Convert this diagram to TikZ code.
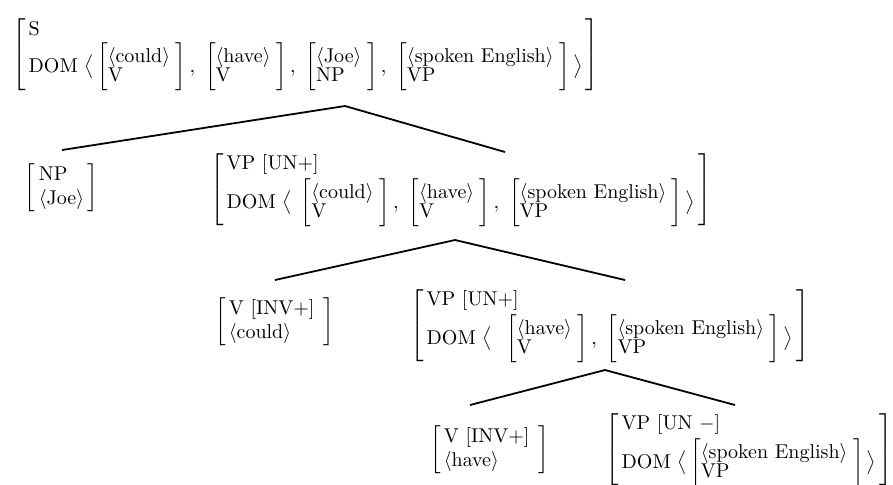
\documentclass[tikz,border=0pt]{standalone}
\usepackage{amsmath}
\newcommand\inn[2]{\left[\begin{array}{@{}l@{}}#1\\[-2.5pt]#2\end{array}\;\right]}
\newcommand\av[1]{\langle\text{#1}\rangle}
\newcommand\avm[1]{$\left[\begin{array}{@{\,}l@{\,}}#1\end{array}\right]$}
\tikzset{
  x=0.5pt, y=-0.5pt,
  avmnode/.style={anchor=west, inner sep=0pt, outer sep=0pt},
  branch/.style={draw=black, line width=0.9pt}
}
\begin{document}
\begin{tikzpicture}
\useasboundingbox (0,0) rectangle (893,484);
\node[avmnode] (root) at (12,55) {\avm{\text{S}\\[0pt]
  \text{DOM}\ \big\langle \inn{\av{could}}{\text{V}},\ \inn{\av{have}}{\text{V}},\ \inn{\av{Joe}}{\text{NP}},\ \inn{\av{spoken\ English}}{\text{VP}}\big\rangle}};
\node[avmnode] (np) at (25,188) {\avm{\text{NP}\;\;\\ \av{Joe}}};
\node[avmnode] (vp1) at (210,190) {\avm{\text{VP [UN+]}\\[1pt]
  \text{DOM}\ \big\langle\; \inn{\av{could}}{\text{V}},\ \inn{\av{have}}{\text{V}},\ \inn{\av{spoken\ English}}{\text{VP}}\big\rangle}};
\node[avmnode] (vc) at (215,322) {\avm{\text{V [INV+]}\;\\ \av{could}}};
\node[avmnode] (vp2) at (410,326) {\avm{\text{VP [UN+]}\\[1pt]
  \text{DOM}\ \big\langle\;\; \inn{\av{have}}{\text{V}},\ \inn{\av{spoken\ English}}{\text{VP}}\big\rangle}};
\node[avmnode] (vh) at (430,450) {\avm{\text{V [INV+]}\;\\ \av{have}}};
\node[avmnode] (vp3) at (605,450) {\avm{\text{VP [UN $-$]}\\[1pt]
  \text{DOM}\ \big\langle \inn{\av{spoken\ English}}{\text{VP}}\big\rangle}};
\coordinate (t1) at (345,106);
\coordinate (t1l) at (62,150);
\coordinate (t1r) at (505,152);
\coordinate (t2) at (455,240);
\coordinate (t2l) at (275,280);
\coordinate (t2r) at (625,280);
\coordinate (t3) at (605,370);
\coordinate (t3l) at (470,405);
\coordinate (t3r) at (735,405);
\draw[branch] (t1l) -- (t1) -- (t1r);
\draw[branch] (t2l) -- (t2) -- (t2r);
\draw[branch] (t3l) -- (t3) -- (t3r);
\end{tikzpicture}
\end{document}
